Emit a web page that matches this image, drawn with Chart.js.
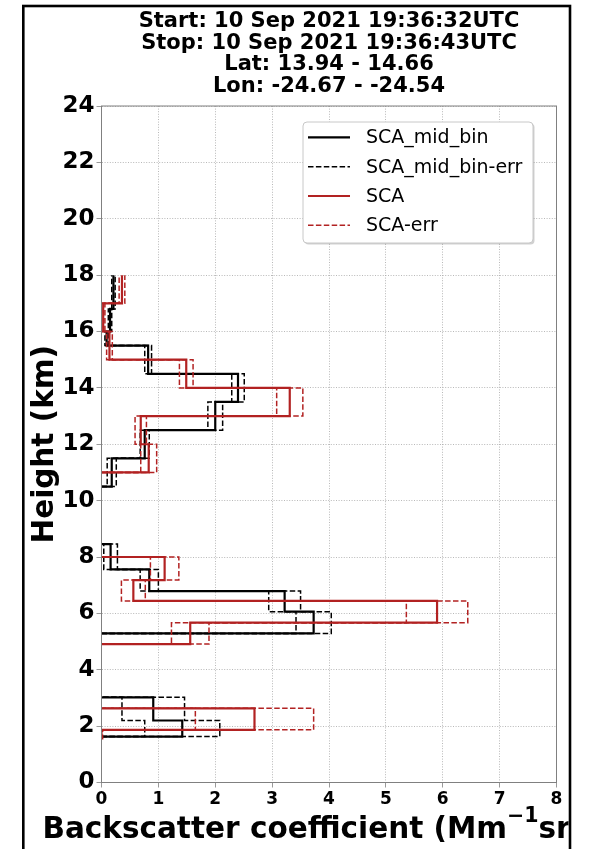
<!DOCTYPE html>
<html>
<head>
<meta charset="utf-8">
<script src="https://cdn.jsdelivr.net/npm/chart.js@4/dist/chart.umd.min.js"></script>
<style>
  html, body { margin: 0; padding: 0; background: #fff; }
  canvas { display: block; }
</style>
</head>
<body>
<canvas id="profile" width="590" height="849"></canvas>
<script>
// Header lines above the plot
const titleLines = [
  'Start: 10 Sep 2021 19:36:32UTC',
  'Stop: 10 Sep 2021 19:36:43UTC',
  'Lat: 13.94 - 14.66',
  'Lon: -24.67 - -24.54'
];

// Axis ticks
const xTickValues = [0, 1, 2, 3, 4, 5, 6, 7, 8];
const yTickValues = [0, 2, 4, 6, 8, 10, 12, 14, 16, 18, 20, 22, 24];

// SCA_mid_bin: bin edges (km), backscatter per bin (Mm-1 sr-1), error per bin; null = no retrieval
const midBinEdges  = [1.63, 2.20, 3.02, 5.29, 6.06, 6.79, 7.56, 8.46, 10.5, 11.5, 12.5, 13.5, 14.5, 15.5, 16.0, 16.8, 18.0];
const midBinValues = [1.42, 0.91, null, 3.73, 3.22, 0.84, 0.16, null, 0.18, 0.76, 2.00, 2.40, 0.82, 0.09, 0.15, 0.21];
const midBinErrors = [0.66, 0.55, null, 0.31, 0.28, 0.16, 0.12, null, 0.08, 0.08, 0.13, 0.11, 0.06, 0.03, 0.03, 0.03];

// SCA: bin edges (km), backscatter per bin, error per bin
const scaEdges  = [1.55, 1.87, 2.63, 4.91, 5.67, 6.44, 7.18, 8.00, 11, 12, 13, 14, 15, 16, 17, 18];
const scaValues = [0.00, 2.69, null, 1.56, 5.90, 0.56, 1.11, null, 0.83, 0.69, 3.31, 1.49, 0.14, 0.03, 0.36];
const scaErrors = [0.02, 1.04, null, 0.33, 0.54, 0.21, 0.25, null, 0.14, 0.10, 0.23, 0.12, 0.05, 0.03, 0.05];

const BLACK = '#000000';
const RED = '#b22222';
const FONT = '"DejaVu Sans", "Liberation Sans", sans-serif';

// Build a vertical step profile: each bin is a vertical segment at its value,
// joined by horizontal segments at the bin edges; runs start/end at zero.
function stepProfile(edges, values, errors, sign) {
  const pts = [];
  for (let i = 0; i < values.length; i++) {
    const v = values[i];
    if (v === null) { pts.push({ x: NaN, y: NaN }); continue; }
    const x = v + sign * (errors ? errors[i] : 0);
    if (i === 0 || values[i - 1] === null) pts.push({ x: 0, y: edges[i] });
    pts.push({ x: x, y: edges[i] });
    pts.push({ x: x, y: edges[i + 1] });
    if (i + 1 < values.length && values[i + 1] === null) pts.push({ x: 0, y: edges[i + 1] });
  }
  return pts;
}

function lineSet(label, data, color, dashed) {
  return {
    label: label,
    data: data,
    showLine: true,
    borderColor: color,
    backgroundColor: color,
    borderWidth: dashed ? 1.5 : 2.2,
    borderDash: dashed ? [5.5, 2.4] : [],
    pointRadius: 0,
    pointHoverRadius: 0,
    fill: false,
    spanGaps: false,
    tension: 0,
    clip: 0
  };
}

// First dataset is painted last (on top)
const datasets = [
  lineSet('SCA-err', stepProfile(scaEdges, scaValues, scaErrors, 1), RED, true),
  lineSet('SCA-err', stepProfile(scaEdges, scaValues, scaErrors, -1), RED, true),
  lineSet('SCA', stepProfile(scaEdges, scaValues, null, 0), RED, false),
  lineSet('SCA_mid_bin-err', stepProfile(midBinEdges, midBinValues, midBinErrors, 1), BLACK, true),
  lineSet('SCA_mid_bin-err', stepProfile(midBinEdges, midBinValues, midBinErrors, -1), BLACK, true),
  lineSet('SCA_mid_bin', stepProfile(midBinEdges, midBinValues, null, 0), BLACK, false)
];

const legendItems = [
  { text: 'SCA_mid_bin', color: BLACK, dashed: false },
  { text: 'SCA_mid_bin-err', color: BLACK, dashed: true },
  { text: 'SCA', color: RED, dashed: false },
  { text: 'SCA-err', color: RED, dashed: true }
];

function roundRect(ctx, x, y, w, h, r) {
  ctx.beginPath();
  ctx.moveTo(x + r, y);
  ctx.lineTo(x + w - r, y);
  ctx.arcTo(x + w, y, x + w, y + r, r);
  ctx.lineTo(x + w, y + h - r);
  ctx.arcTo(x + w, y + h, x + w - r, y + h, r);
  ctx.lineTo(x + r, y + h);
  ctx.arcTo(x, y + h, x, y + h - r, r);
  ctx.lineTo(x, y + r);
  ctx.arcTo(x, y, x + r, y, r);
  ctx.closePath();
}

const decor = {
  id: 'decor',
  beforeDraw(chart) {
    const ctx = chart.ctx;
    ctx.save();
    ctx.fillStyle = '#ffffff';
    ctx.fillRect(0, 0, chart.width, chart.height);
    ctx.restore();
  },
  afterDatasetsDraw(chart) {
    const { ctx, chartArea: a } = chart;
    ctx.save();
    ctx.strokeStyle = '#808080';
    ctx.lineWidth = 1;
    ctx.strokeRect(a.left, a.top, a.right - a.left, a.bottom - a.top);
    ctx.restore();
  },
  afterDraw(chart) {
    const { ctx, chartArea: a } = chart;
    const cx = (a.left + a.right) / 2;
    ctx.save();

    // Header
    ctx.fillStyle = '#000';
    ctx.font = 'bold 21px ' + FONT;
    ctx.textAlign = 'center';
    ctx.textBaseline = 'alphabetic';
    const base = [27, 48.5, 70, 91.5];
    titleLines.forEach((t, i) => ctx.fillText(t, cx, base[i]));

    // Y axis title
    ctx.save();
    ctx.translate(53, (a.top + a.bottom) / 2);
    ctx.rotate(-Math.PI / 2);
    ctx.font = 'bold 29.5px ' + FONT;
    ctx.textAlign = 'center';
    ctx.textBaseline = 'alphabetic';
    ctx.fillText('Height (km)', 0, 0);
    ctx.restore();

    // X axis title with superscripts, clipped by the figure frame
    const parts = [
      { t: 'Backscatter coefficient (Mm', sup: false },
      { t: '\u22121', sup: true },
      { t: 'sr', sup: false },
      { t: '\u22121', sup: true },
      { t: ')', sup: false }
    ];
    const mainFont = 'bold 29.5px ' + FONT;
    const supFont = 'bold 20.5px ' + FONT;
    let total = 0;
    parts.forEach(p => { ctx.font = p.sup ? supFont : mainFont; p.w = ctx.measureText(p.t).width; total += p.w; });
    ctx.save();
    ctx.beginPath();
    ctx.rect(25, 790, 543.5, 70);
    ctx.clip();
    let x = cx - total / 2;
    ctx.textAlign = 'left';
    ctx.textBaseline = 'alphabetic';
    parts.forEach(p => {
      ctx.font = p.sup ? supFont : mainFont;
      ctx.fillText(p.t, x, p.sup ? 822 : 838);
      x += p.w;
    });
    ctx.restore();

    // Legend
    const lx = 303, ly = 122, lw = 230, lh = 121;
    ctx.fillStyle = 'rgba(0,0,0,0.18)';
    roundRect(ctx, lx + 1.5, ly + 1.5, lw, lh, 4);
    ctx.fill();
    ctx.fillStyle = '#ffffff';
    roundRect(ctx, lx, ly, lw, lh, 4);
    ctx.fill();
    ctx.strokeStyle = '#c8c8c8';
    ctx.lineWidth = 1;
    ctx.stroke();
    ctx.font = '19px ' + FONT;
    ctx.textAlign = 'left';
    ctx.textBaseline = 'middle';
    legendItems.forEach((it, i) => {
      const yy = 137.3 + i * 29.35;
      ctx.beginPath();
      ctx.strokeStyle = it.color;
      ctx.lineWidth = it.dashed ? 1.5 : 2.2;
      ctx.setLineDash(it.dashed ? [5.5, 2.4] : []);
      ctx.moveTo(308, yy);
      ctx.lineTo(350, yy);
      ctx.stroke();
      ctx.setLineDash([]);
      ctx.fillStyle = '#000';
      ctx.fillText(it.text, 366, yy + 1);
    });

    // Figure frame
    ctx.strokeStyle = '#000';
    ctx.lineWidth = 2.6;
    ctx.strokeRect(23.3, 6, 546.7, 870);
    ctx.restore();
  }
};

new Chart(document.getElementById('profile'), {
  type: 'scatter',
  data: { datasets: datasets },
  options: {
    responsive: false,
    animation: false,
    devicePixelRatio: 1,
    events: [],
    layout: { padding: { left: 0, top: 106, right: 33.5, bottom: 0 } },
    plugins: { legend: { display: false }, tooltip: { enabled: false }, title: { display: false } },
    scales: {
      x: {
        type: 'linear',
        min: 0, max: 8,
        afterBuildTicks: s => { s.ticks = xTickValues.map(v => ({ value: v })); },
        afterFit: s => { s.height = 66.5; },
        ticks: {
          color: '#000', padding: 2, maxRotation: 0, autoSkip: false,
          font: { family: FONT, size: 17, weight: 'bold' },
          callback: v => String(v)
        },
        grid: { color: '#a6a6a6', lineWidth: 0.8, tickLength: 5, tickColor: '#808080', tickWidth: 0.8 },
        border: { display: false, dash: [1, 1.6] }
      },
      y: {
        type: 'linear',
        min: 0, max: 24,
        afterBuildTicks: s => { s.ticks = yTickValues.map(v => ({ value: v })); },
        afterFit: s => { s.width = 101.5; },
        ticks: {
          color: '#000', padding: 2, autoSkip: false,
          font: { family: FONT, size: 23, weight: 'bold' },
          callback: v => String(v)
        },
        grid: { color: '#a6a6a6', lineWidth: 0.8, tickLength: 5, tickColor: '#808080', tickWidth: 0.8 },
        border: { display: false, dash: [1, 1.6] }
      }
    }
  },
  plugins: [decor]
});
</script>
</body>
</html>
